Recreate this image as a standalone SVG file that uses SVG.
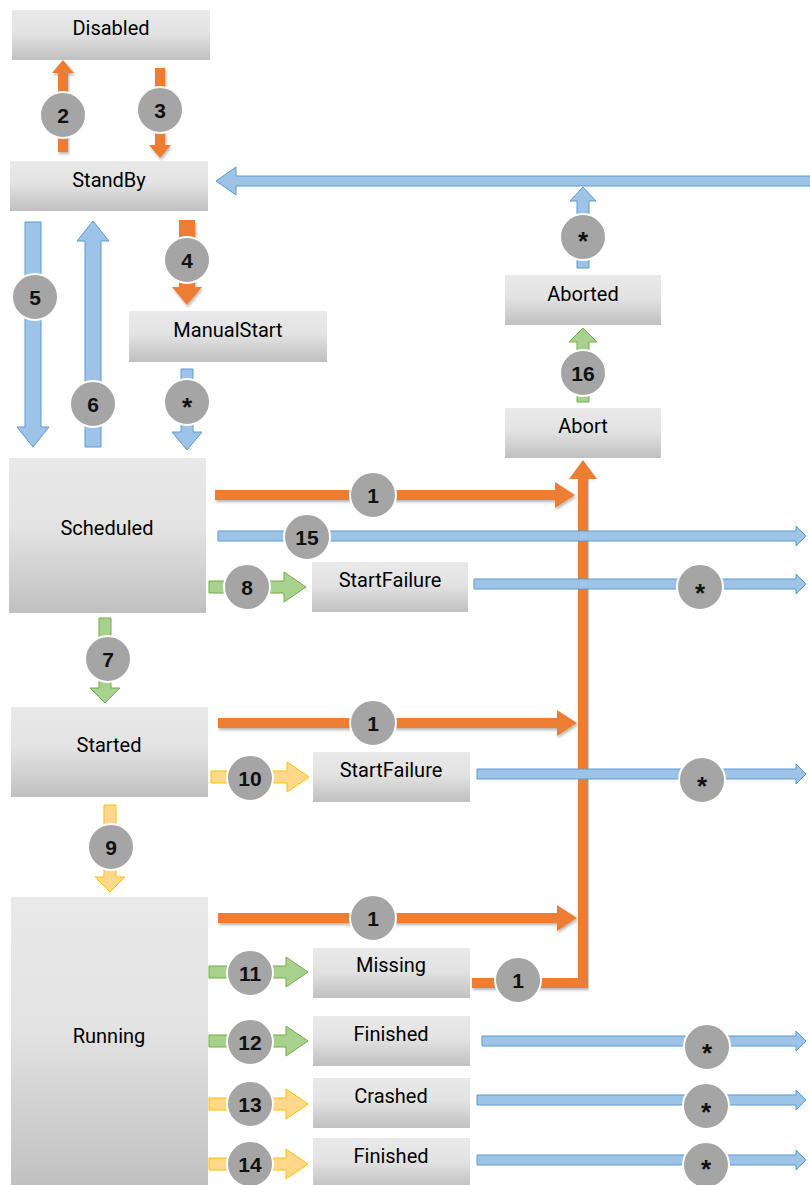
<svg xmlns="http://www.w3.org/2000/svg" width="810" height="1185" viewBox="0 0 810 1185">
<defs>
<linearGradient id="g" x1="0" y1="0" x2="0" y2="1">
<stop offset="0" stop-color="#e9e9e9"/><stop offset="0.45" stop-color="#e3e3e3"/><stop offset="1" stop-color="#c0c0c0"/>
</linearGradient>
<filter id="sh" x="-5%" y="-50%" width="110%" height="200%"><feDropShadow dx="1" dy="2" stdDeviation="1.5" flood-color="#000" flood-opacity="0.3"/></filter>
</defs>
<style>
.node rect{fill:url(#g)}
.node text{font-family:Roboto,"Liberation Sans",sans-serif;font-size:20px;font-weight:400;fill:#000;text-anchor:middle}
.o{fill:#ed7d31}
.b{fill:#9dc3e6;stroke:#5b9bd5;stroke-width:1}
.gr{fill:#a9d18e;stroke:#70ad47;stroke-width:1}
.y{fill:#ffd88a;stroke:#ffc000;stroke-width:1}
.badge circle{fill:#a5a5a5;stroke:#fff;stroke-width:2}
.badge text{font-family:"Liberation Sans",Arial,sans-serif;font-weight:bold;font-size:21px;fill:#111;text-anchor:middle}
.badge text.s{font-size:26px}
</style>
<g id="connectors">
<polygon class="o" filter="url(#sh)" points="58,152 58,73 52,73 63,60 74,73 68,73 68,152"/>
<polygon class="o" filter="url(#sh)" points="155,68 165,68 165,145 171,145 160,158 149,145 155,145"/>
<polygon class="o" filter="url(#sh)" points="179,220 195,220 195,287 202,287 187,305 172,287 179,287"/>
<path d="M472 983 H583 V476" fill="none" stroke="#ed7d31" stroke-width="10" filter="url(#sh)"/>
<polygon class="o" points="569,479 583,460 597,479"/>
<polygon class="o" filter="url(#sh)" points="215,490 555,490 555,482 575,495 555,508 555,500 215,500"/>
<polygon class="o" filter="url(#sh)" points="218,718 557,718 557,710 577,723 557,736 557,728 218,728"/>
<polygon class="o" filter="url(#sh)" points="218,913 557,913 557,905 577,918 557,931 557,923 218,923"/>
<polygon class="b" points="812,176 236,176 236,167 216,181 236,195 236,186 812,186"/>
<polygon class="b" points="25,222 41,222 41,427 49,427 33,447 17,427 25,427"/>
<polygon class="b" points="85,447 85,241 77,241 93,221 109,241 101,241 101,447"/>
<polygon class="b" points="181,369 193,369 193,432 202,432 187,450 172,432 181,432"/>
<polygon class="b" points="577,268 577,201 570,201 583,187 596,201 589,201 589,268"/>
<polygon class="b" points="218,531 796,531 796,526 806,536 796,546 796,541 218,541"/>
<polygon class="b" points="474,579 796,579 796,574 806,584 796,594 796,589 474,589"/>
<polygon class="b" points="477,769 796,769 796,764 806,774 796,784 796,779 477,779"/>
<polygon class="b" points="482,1036 796,1036 796,1031 806,1041 796,1051 796,1046 482,1046"/>
<polygon class="b" points="477,1095 796,1095 796,1090 806,1100 796,1110 796,1105 477,1105"/>
<polygon class="b" points="477,1155 796,1155 796,1150 806,1160 796,1170 796,1165 477,1165"/>
<polygon class="gr" points="577,402 577,342 569,342 583,328 597,342 589,342 589,402"/>
<polygon class="gr" points="99,618 111,618 111,688 120,688 105,703 90,688 99,688"/>
<polygon class="gr" points="209,581 284,581 284,572 306,587 284,602 284,593 209,593"/>
<polygon class="gr" points="209,966 286,966 286,957 308,972 286,987 286,978 209,978"/>
<polygon class="gr" points="209,1035 286,1035 286,1026 308,1041 286,1056 286,1047 209,1047"/>
<polygon class="y" points="104,805 116,805 116,877 125,877 110,892 95,877 104,877"/>
<polygon class="y" points="211,771 287,771 287,762 309,777 287,792 287,783 211,783"/>
<polygon class="y" points="209,1098 286,1098 286,1089 308,1104 286,1119 286,1110 209,1110"/>
<polygon class="y" points="209,1158 286,1158 286,1149 308,1164 286,1179 286,1170 209,1170"/>
</g>
<g id="n-disabled" class="node"><rect x="12" y="10" width="198" height="50"/><text x="111" y="35">Disabled</text></g>
<g id="n-standby" class="node"><rect x="10" y="161" width="198" height="50"/><text x="109" y="187">StandBy</text></g>
<g id="n-manualstart" class="node"><rect x="129" y="311" width="198" height="51"/><text x="228" y="337">ManualStart</text></g>
<g id="n-aborted" class="node"><rect x="505" y="275" width="156" height="50"/><text x="583" y="301">Aborted</text></g>
<g id="n-abort" class="node"><rect x="505" y="408" width="156" height="50"/><text x="583" y="433">Abort</text></g>
<g id="n-scheduled" class="node"><rect x="9" y="458" width="197" height="155"/><text x="107" y="535">Scheduled</text></g>
<g id="n-startfailure1" class="node"><rect x="312" y="562" width="156" height="50"/><text x="390" y="587">StartFailure</text></g>
<g id="n-started" class="node"><rect x="11" y="707" width="197" height="90"/><text x="109" y="752">Started</text></g>
<g id="n-startfailure2" class="node"><rect x="313" y="752" width="157" height="50"/><text x="391" y="777">StartFailure</text></g>
<g id="n-running" class="node"><rect x="11" y="897" width="197" height="290"/><text x="109" y="1043">Running</text></g>
<g id="n-missing" class="node"><rect x="313" y="948" width="157" height="50"/><text x="391" y="972">Missing</text></g>
<g id="n-finished1" class="node"><rect x="313" y="1016" width="157" height="50"/><text x="391" y="1041">Finished</text></g>
<g id="n-crashed" class="node"><rect x="313" y="1078" width="157" height="50"/><text x="391" y="1103">Crashed</text></g>
<g id="n-finished2" class="node"><rect x="313" y="1138" width="157" height="50"/><text x="391" y="1163">Finished</text></g>
<g id="badges">
<g class="badge"><circle cx="63" cy="115" r="23"/><text x="63" y="123">2</text></g>
<g class="badge"><circle cx="160" cy="110" r="23"/><text x="160" y="118">3</text></g>
<g class="badge"><circle cx="187" cy="260" r="23"/><text x="187" y="268">4</text></g>
<g class="badge"><circle cx="35" cy="297" r="23"/><text x="35" y="305">5</text></g>
<g class="badge"><circle cx="93" cy="404" r="23"/><text x="93" y="412">6</text></g>
<g class="badge"><circle cx="187" cy="402" r="23"/><text class="s" x="187" y="416">*</text></g>
<g class="badge"><circle cx="583" cy="237" r="23"/><text class="s" x="583" y="250">*</text></g>
<g class="badge"><circle cx="583" cy="373" r="23"/><text x="583" y="381">16</text></g>
<g class="badge"><circle cx="373" cy="495" r="23"/><text x="373" y="503">1</text></g>
<g class="badge"><circle cx="307" cy="537" r="23"/><text x="307" y="545">15</text></g>
<g class="badge"><circle cx="247" cy="587" r="23"/><text x="247" y="595">8</text></g>
<g class="badge"><circle cx="700" cy="587" r="23"/><text class="s" x="700" y="602">*</text></g>
<g class="badge"><circle cx="108" cy="659" r="23"/><text x="108" y="667">7</text></g>
<g class="badge"><circle cx="373" cy="723" r="23"/><text x="373" y="731">1</text></g>
<g class="badge"><circle cx="250" cy="778" r="23"/><text x="250" y="786">10</text></g>
<g class="badge"><circle cx="702" cy="780" r="23"/><text class="s" x="702" y="795">*</text></g>
<g class="badge"><circle cx="111" cy="847" r="23"/><text x="111" y="855">9</text></g>
<g class="badge"><circle cx="373" cy="918" r="23"/><text x="373" y="926">1</text></g>
<g class="badge"><circle cx="250" cy="973" r="23"/><text x="250" y="981">11</text></g>
<g class="badge"><circle cx="518" cy="980" r="23"/><text x="518" y="988">1</text></g>
<g class="badge"><circle cx="250" cy="1042" r="23"/><text x="250" y="1050">12</text></g>
<g class="badge"><circle cx="707" cy="1047" r="23"/><text class="s" x="707" y="1062">*</text></g>
<g class="badge"><circle cx="250" cy="1104" r="23"/><text x="250" y="1112">13</text></g>
<g class="badge"><circle cx="706" cy="1106" r="23"/><text class="s" x="706" y="1121">*</text></g>
<g class="badge"><circle cx="250" cy="1164" r="23"/><text x="250" y="1172">14</text></g>
<g class="badge"><circle cx="706" cy="1165" r="23"/><text class="s" x="706" y="1178">*</text></g>
</g>
</svg>
